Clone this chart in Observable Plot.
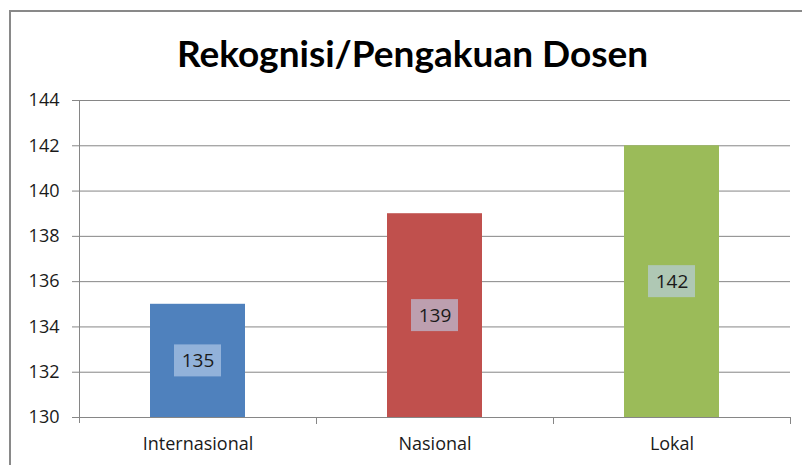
<!DOCTYPE html>
<html><head><meta charset="utf-8">
<script src="https://cdn.jsdelivr.net/npm/d3@7"></script>
<script src="https://cdn.jsdelivr.net/npm/@observablehq/plot@0.6"></script>
<style>
body{margin:0;background:#fff;}
#wrap{position:relative;width:802px;height:465px;overflow:hidden;background:#fff;}
#border{position:absolute;left:9px;top:10px;width:900px;height:600px;border-top:2px solid #898989;border-left:2px solid #898989;pointer-events:none;}
#chart{position:absolute;left:0;top:0;}
</style></head><body>
<div id="wrap"><div id="chart"></div><div id="border"></div></div>
<script>
const title = "Rekognisi/Pengakuan Dosen";
const categories = ["Internasional", "Nasional", "Lokal"];
const values = [135, 139, 142];
const yTicks = [130, 132, 134, 136, 138, 140, 142, 144];
const yDomain = [130, 144];
const barColors = ["#4F81BD", "#C0504D", "#9BBB59"];

const data = categories.map((c, i) => ({category: c, value: values[i], mid: (yDomain[0] + values[i]) / 2}));

const W = 802, H = 465, mL = 79, mR = 12, mT = 100, mB = 48;
const step = (W - mL - mR) / categories.length;
const gray = "#868686";
const font = "'Open Sans', sans-serif";

const chart = Plot.plot({
  width: W, height: H,
  marginLeft: mL, marginRight: mR, marginTop: mT, marginBottom: mB,
  style: {fontFamily: font, fontSize: "18px", color: "#1a1a1a", background: "white"},
  x: {domain: categories, paddingInner: 0.6, paddingOuter: 0.3, label: null},
  y: {domain: yDomain, label: null},
  color: {domain: categories, range: barColors},
  marks: [
    Plot.gridY(yTicks, {stroke: gray, strokeOpacity: 1}),
    Plot.barY(data, {x: "category", y1: yDomain[0], y2: "value", fill: "category"}),
    Plot.axisY(yTicks, {tickSize: 7, tickPadding: 13, stroke: gray, strokeOpacity: 1, fontSize: 18, fill: "#1a1a1a", label: null}),
    Plot.axisX({tickSize: 0, tickPadding: 20, fontSize: 18, fill: "#1a1a1a", label: null}),
    Plot.ruleY([yDomain[0]], {stroke: gray, strokeOpacity: 1}),
    Plot.ruleX([categories[0]], {x: d => d, dx: -step / 2, insetBottom: -6, stroke: gray, strokeOpacity: 1}),
    Plot.ruleX(categories.slice(1), {x: d => d, dx: -step / 2, y1: yDomain[0], y2: yDomain[0], insetBottom: -7, stroke: gray, strokeOpacity: 1}),
    Plot.ruleX(categories.slice(-1), {x: d => d, dx: step / 2, y1: yDomain[0], y2: yDomain[0], insetBottom: -7, stroke: gray, strokeOpacity: 1}),
    Plot.barY(data, {x: "category", y1: "mid", y2: "mid", insetLeft: 24, insetRight: 24, insetTop: -16, insetBottom: -16, fill: "#BCD0EC", fillOpacity: 0.62}),
    Plot.text(data, {x: "category", y: "mid", text: d => String(d.value), fontSize: 19, fill: "#1a1a1a"}),
    Plot.text([title], {frameAnchor: "top", text: d => d, dx: -22.5, dy: -60, fontSize: 37, fontWeight: "bold", fill: "#000", fontFamily: "Lato, sans-serif"})
  ]
});
document.getElementById("chart").append(chart);
</script>
</body></html>
